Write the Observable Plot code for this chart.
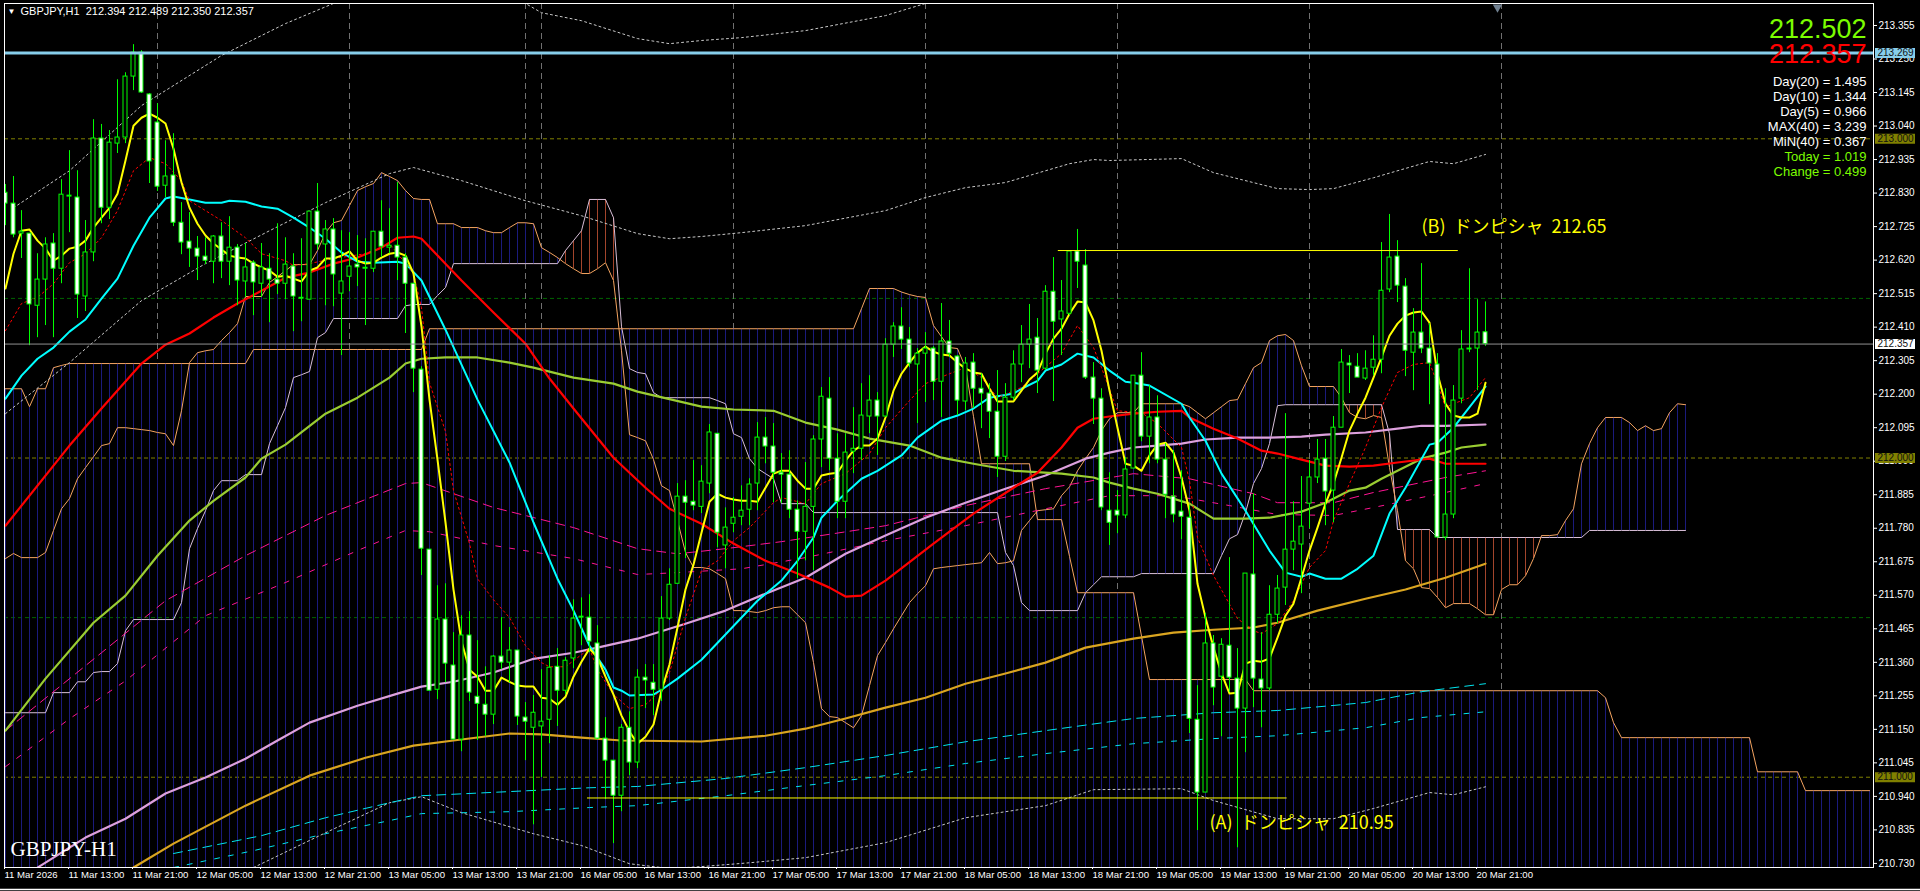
<!DOCTYPE html>
<html><head><meta charset="utf-8">
<style>html,body{margin:0;padding:0;background:#000;overflow:hidden}svg{display:block}</style>
<script src="https://cdn.jsdelivr.net/npm/d3@7"></script>
<script src="https://cdn.jsdelivr.net/npm/@observablehq/plot@0.6"></script>
</head><body>
<script>
const high=[212.857,212.882,212.775,212.703,212.640,212.690,212.703,212.872,212.963,212.900,
212.744,213.060,213.045,213.026,213.185,213.207,213.295,213.276,213.142,213.110,
212.994,213.016,212.800,212.769,212.694,212.690,212.697,212.737,212.756,212.669,
212.672,212.618,212.672,212.640,212.734,212.690,212.640,212.687,212.772,212.860,
212.744,212.750,212.712,212.706,212.697,212.687,212.709,212.806,212.781,212.863,
212.640,212.546,212.286,211.713,211.600,211.606,211.453,211.506,211.519,211.428,
211.346,211.381,211.500,211.469,211.397,211.234,211.256,211.337,211.381,211.403,
211.375,211.556,211.562,211.572,211.475,211.187,211.052,211.165,211.205,211.337,
211.353,211.353,211.566,211.653,211.920,211.929,211.992,211.976,212.105,212.076,
211.844,211.876,211.913,211.935,212.111,212.127,212.108,212.014,212.023,211.866,
211.986,212.070,212.221,212.252,212.076,212.076,212.158,212.233,212.258,212.205,
212.374,212.424,212.471,212.409,212.343,212.393,212.349,212.484,212.431,212.321,
212.315,212.327,212.264,212.233,212.274,212.233,212.336,212.415,212.481,212.437,
212.540,212.628,212.556,212.647,212.716,212.653,212.299,212.217,211.954,211.898,
212.001,212.258,212.330,212.227,212.195,212.045,212.023,211.960,211.851,211.287,
211.513,211.444,211.434,211.688,211.403,211.638,211.888,211.453,211.600,211.632,
212.139,211.863,211.942,211.992,212.058,212.058,212.130,212.340,212.321,212.327,
212.336,212.383,212.675,212.763,212.681,212.562,212.468,212.609,212.421,212.327,
212.217,212.227,212.399,212.593,212.496,212.489];
const low=[212.728,212.690,212.625,212.352,212.377,212.415,212.377,212.546,212.706,212.437,
212.459,212.615,212.734,212.747,212.954,212.985,213.151,213.142,212.860,212.835,
212.816,212.725,212.637,212.597,212.556,212.606,212.546,212.562,212.540,212.477,
212.503,212.446,212.503,212.424,212.512,212.496,212.396,212.427,212.496,212.650,
212.477,212.474,212.321,212.521,212.537,212.415,212.581,212.628,212.640,212.556,
212.390,212.205,211.632,211.271,211.243,211.296,211.118,211.080,211.237,211.115,
211.127,211.165,211.337,211.296,211.162,211.052,210.851,210.999,211.105,211.159,
211.259,211.340,211.412,211.390,211.118,210.930,210.792,210.892,211.005,211.027,
211.215,211.193,211.237,211.491,211.606,211.685,211.835,211.826,211.888,211.719,
211.653,211.766,211.788,211.788,211.835,211.982,211.860,211.857,211.810,211.622,
211.678,211.647,211.970,211.960,211.810,211.810,211.951,211.992,212.076,212.008,
212.127,212.315,212.340,212.283,212.108,212.174,212.180,212.127,212.315,212.133,
212.148,212.155,212.092,212.061,211.939,211.989,212.180,212.236,212.280,212.202,
212.274,212.177,212.321,212.446,212.531,212.246,212.105,211.835,211.726,211.763,
211.810,211.967,212.051,211.982,211.982,211.810,211.797,211.744,211.137,210.833,
210.952,211.224,211.127,211.265,210.779,211.077,211.218,211.155,211.271,211.481,
211.538,211.647,211.575,211.779,211.920,211.788,211.797,212.095,212.202,212.252,
212.243,212.258,212.264,212.518,212.487,212.255,212.211,212.327,212.167,211.751,
211.741,211.810,212.170,212.330,212.211,212.350];
const open=[212.831,212.797,212.703,212.703,212.477,212.559,212.672,212.593,212.819,212.816,
212.506,212.644,213.001,212.784,212.985,213.004,213.195,213.270,213.139,213.051,
212.853,212.885,212.737,212.678,212.656,212.631,212.615,212.694,212.615,212.659,
212.553,212.612,212.546,212.593,212.559,212.546,212.600,212.499,212.496,212.772,
212.669,212.716,212.515,212.568,212.606,212.593,212.593,212.709,212.659,212.665,
212.628,212.546,212.277,211.713,211.274,211.494,211.350,211.118,211.444,211.252,
211.227,211.196,211.378,211.359,211.397,211.187,211.155,211.159,211.180,211.346,
211.271,211.372,211.500,211.500,211.419,211.121,211.052,210.942,211.155,211.046,
211.312,211.296,211.274,211.497,211.606,211.879,211.863,211.847,211.920,212.076,
211.726,211.794,211.816,211.838,211.920,212.064,212.036,211.954,211.948,211.838,
211.769,211.847,212.058,212.186,211.998,211.863,212.020,212.029,212.130,212.180,
212.130,212.355,212.412,212.371,212.293,212.327,212.343,212.239,212.365,212.318,
212.177,212.299,212.217,212.202,212.145,212.004,212.189,212.293,212.355,212.377,
212.280,212.521,212.434,212.452,212.647,212.603,212.252,212.186,211.835,211.835,
211.820,211.967,212.258,212.067,212.127,211.995,211.879,211.832,211.813,211.180,
210.952,211.419,211.315,211.412,211.309,211.215,211.635,211.306,211.278,211.509,
211.594,211.713,211.729,211.857,211.939,211.998,211.898,212.095,212.296,212.286,
212.249,212.283,212.308,212.528,212.631,212.537,212.330,212.393,212.343,212.293,
211.751,211.823,212.186,212.340,212.343,212.394];
const close=[212.797,212.700,212.709,212.481,212.559,212.669,212.593,212.825,212.822,212.512,
212.644,213.001,212.784,212.988,213.004,213.195,213.270,213.145,212.929,212.850,
212.882,212.737,212.675,212.656,212.631,212.618,212.694,212.615,212.659,212.556,
212.597,212.550,212.597,212.559,212.546,212.606,212.506,212.502,212.772,212.669,
212.716,212.575,212.553,212.600,212.597,212.596,212.709,212.662,212.665,212.628,
212.546,212.280,211.716,211.271,211.494,211.356,211.118,211.444,211.265,211.230,
211.196,211.378,211.359,211.397,211.190,211.174,211.202,211.174,211.343,211.271,
211.365,211.497,211.503,211.425,211.121,211.052,210.942,211.155,211.046,211.312,
211.303,211.274,211.497,211.603,211.879,211.860,211.851,211.926,212.080,211.766,
211.782,211.813,211.835,211.917,212.064,212.036,211.954,211.948,211.838,211.769,
211.847,212.058,212.192,211.998,211.863,212.017,212.029,212.133,212.180,212.130,
212.355,212.412,212.371,212.296,212.327,212.343,212.239,212.365,212.327,212.180,
212.296,212.217,212.202,212.145,212.004,212.189,212.293,212.355,212.371,212.274,
212.521,212.427,212.459,212.647,212.615,212.252,212.186,211.845,211.797,211.820,
211.964,212.258,212.067,212.127,211.995,211.885,211.823,211.816,211.183,210.952,
211.419,211.281,211.415,211.312,211.215,211.638,211.309,211.278,211.509,211.591,
211.713,211.738,211.785,211.939,211.995,211.895,212.095,212.299,212.290,212.252,
212.280,212.308,212.524,212.628,212.540,212.336,212.393,212.343,212.296,211.751,
211.823,212.180,212.340,212.343,212.393,212.357];

const fastMA=[212.531,212.640,212.712,212.716,212.681,212.656,212.618,212.634,212.656,212.662,
212.681,212.722,212.753,212.784,212.828,212.932,213.041,213.066,213.079,213.066,
213.048,212.969,212.863,212.784,212.734,212.697,212.672,212.653,212.634,212.628,
212.625,212.609,212.597,212.587,212.568,212.571,212.562,212.553,212.587,212.597,
212.625,212.625,212.634,212.647,212.618,212.609,212.612,212.628,212.640,212.644,
212.634,212.578,212.412,212.183,211.995,211.798,211.588,211.425,211.337,211.315,
211.271,211.271,211.312,211.299,211.287,211.284,211.284,211.249,211.246,211.227,
211.252,211.315,211.362,211.403,211.375,211.315,211.259,211.193,211.143,211.105,
211.127,211.165,211.271,211.353,211.469,211.588,211.666,211.766,211.863,211.888,
211.876,211.870,211.866,211.866,211.863,211.907,211.951,211.960,211.960,211.929,
211.904,211.904,211.945,211.951,211.954,211.992,212.023,212.039,212.039,212.061,
212.127,212.211,212.264,212.299,212.330,212.349,212.333,212.324,212.321,212.299,
212.280,212.268,212.264,212.217,212.177,212.177,212.177,212.211,212.246,212.268,
212.327,212.374,212.405,212.452,212.490,212.487,212.431,212.336,212.211,212.095,
211.982,211.976,211.960,212.008,212.042,212.048,212.017,211.939,211.835,211.606,
211.500,211.406,211.325,211.262,211.265,211.356,211.365,211.362,211.372,211.437,
211.506,211.544,211.625,211.710,211.782,211.857,211.920,212.001,212.086,212.139,
212.189,212.252,212.315,212.383,212.421,212.446,212.456,212.459,212.424,212.264,
212.170,212.133,212.127,212.127,212.139,212.236];

const cyanBars=[0,2,4,6,8,10,12,14,16,18,20,21,23,25,27,28,30,32,34,36,38,40,42,44,46,49,50,52,55,59,63,66,69,71,73,75,76,77,78,81,82,84,87,94,97,99,101,102,104,107,109,112,114,117,119,121,123,126,127,129,130,132,134,136,138,140,141,143,147,148,150,152,155,158,160,162,163,165,167,169,171,173,175,178,179,181,185];
const cyanVals=[212.186,212.258,212.311,212.346,212.396,212.434,212.499,212.562,212.665,212.753,212.813,212.819,212.810,212.800,212.800,212.806,212.803,212.788,212.781,212.753,212.722,212.687,212.644,212.615,212.612,212.615,212.609,212.556,212.402,212.183,211.986,211.798,211.622,211.522,211.412,211.337,211.281,211.271,211.256,211.259,211.274,211.309,211.368,211.553,211.616,211.678,211.751,211.813,211.866,211.935,211.960,212.008,212.064,212.117,212.133,212.155,212.189,212.202,212.217,212.242,212.274,212.293,212.327,212.315,212.274,212.239,212.236,212.227,212.170,212.127,212.054,211.951,211.835,211.710,211.641,211.628,211.638,211.622,211.622,211.653,211.694,211.826,211.907,212.042,212.048,212.095,212.224];

const redBars=[0,8,12,17,20,23,26,29,32,35,38,41,44,47,49,51,52,57,61,65,68,71,76,80,83,87,91,95,99,103,105,107,110,116,121,126,129,132,134,136,138,141,144,147,148,151,154,157,159,162,165,168,171,174,178,180,185];
const redVals=[211.788,212.039,212.155,212.296,212.355,212.390,212.440,212.484,212.524,212.565,212.581,212.609,212.628,212.659,212.690,212.694,212.687,212.556,212.456,212.358,212.249,212.155,212.001,211.907,211.841,211.794,211.732,211.678,211.638,211.594,211.566,211.569,211.616,211.732,211.826,211.907,211.954,212.033,212.095,212.123,212.130,212.139,212.145,212.148,212.127,212.092,212.061,212.023,212.014,211.995,211.976,211.973,211.976,211.986,211.998,211.982,211.982];

const limeBars=[0,5,11,15,19,23,26,30,32,35,40,44,48,50,52,55,59,63,66,71,76,79,87,91,96,100,104,108,113,117,121,126,132,136,138,141,144,148,151,155,158,162,165,168,170,172,174,177,180,182,185];
const limeVals=[211.146,211.309,211.484,211.569,211.694,211.804,211.866,211.939,211.998,212.042,212.139,212.189,212.252,212.296,212.311,212.315,212.315,212.299,212.283,212.252,212.233,212.208,212.161,212.152,212.148,212.111,212.089,212.061,212.039,212.001,211.982,211.960,211.951,211.939,211.923,211.904,211.888,211.857,211.810,211.810,211.813,211.832,211.860,211.898,211.907,211.935,211.960,211.998,212.017,212.033,212.042];

const plumBars=[4,10,15,20,25,30,34,38,44,49,52,56,61,66,71,74,79,85,90,95,100,105,110,115,120,125,130,135,138,141,144,147,150,154,158,162,165,170,174,177,180,185];
const plumVals=[210.717,210.811,210.870,210.949,210.999,211.058,211.115,211.171,211.224,211.262,211.284,211.299,211.328,211.371,211.390,211.406,211.434,211.481,211.522,211.575,211.625,211.700,211.757,211.813,211.860,211.904,211.945,211.998,212.017,212.033,212.039,212.045,212.058,212.064,212.064,212.067,212.073,212.080,212.092,212.101,212.101,212.105];

const goldBars=[16,21,30,38,45,51,56,63,67,72,77,87,95,100,105,110,115,120,125,130,135,141,146,151,156,159,164,170,175,180,185];
const goldVals=[210.717,210.792,210.911,211.005,211.061,211.099,211.115,211.137,211.134,211.124,211.115,211.112,211.130,211.152,211.184,211.218,211.249,211.293,211.325,211.359,211.406,211.434,211.453,211.462,211.469,211.484,211.522,211.559,211.588,211.625,211.669];

const tealUpperBars=[21,32,40,48,52,63,73,79,90,100,110,120,130,141,151,159,170,177,185];
const tealUpperVals=[210.761,210.817,210.873,210.920,210.942,210.955,210.967,210.971,210.996,211.030,211.068,211.111,211.146,211.184,211.202,211.209,211.234,211.268,211.293];
const tealLowerBars=[21,31,40,48,52,63,73,79,90,100,110,120,130,141,151,159,170,177,185];
const tealLowerVals=[210.717,210.770,210.823,210.864,210.886,210.892,210.905,210.911,210.942,210.974,211.005,211.043,211.074,211.105,211.121,211.130,211.155,211.187,211.205];

const pinkUpperBars=[0,12,20,30,40,50,52,61,71,79,84,90,97,110,120,130,141,148,156,159,166,171,180,185];
const pinkUpperVals=[211.146,211.390,211.553,211.694,211.820,211.920,211.923,211.845,211.782,211.716,211.700,211.716,211.738,211.788,211.851,211.904,211.951,211.935,211.888,211.860,211.860,211.892,211.939,211.960];
const pinkLowerBars=[0,8,15,25,35,44,50,53,61,71,79,84,92,100,110,120,130,138,146,153,159,166,171,180,185];
const pinkLowerVals=[211.033,211.183,211.302,211.506,211.610,211.710,211.773,211.769,211.726,211.685,211.635,211.641,211.653,211.688,211.741,211.788,211.841,211.882,211.882,211.851,211.823,211.820,211.845,211.892,211.920];

const bandUpperBars=[1,8,17,27,35,41,51,65,67,72,79,83,87,92,100,110,115,120];
const bandUpperVals=[212.784,212.900,213.104,213.261,213.361,213.424,213.621,213.424,213.395,213.370,213.314,213.298,213.308,213.317,213.339,213.386,213.424,213.455];
const bandMidBars=[0,8,17,25,33,40,48,51,57,65,72,79,83,87,92,100,110,115,120,125,133,136,138,147,151,159,163,166,171,178,181,185];
const bandMidVals=[212.139,212.299,212.493,212.609,212.712,212.800,212.891,212.910,212.869,212.806,212.759,212.703,212.687,212.694,212.706,212.728,212.775,212.816,212.847,212.863,212.922,212.935,212.932,212.938,212.894,212.844,212.841,212.844,212.878,212.929,212.922,212.951];
const bandLowerBars=[31,40,48,52,57,66,72,78,83,87,93,100,110,120,130,136,147,151,159,166,171,178,181,185];
const bandLowerVals=[210.717,210.826,210.920,210.939,210.889,210.823,210.786,210.729,210.714,210.720,210.732,210.748,210.795,210.873,210.911,210.961,210.964,210.927,210.870,210.870,210.902,210.952,210.945,210.970];

const dotRedBars=[0,2,4,6,8,10,12,14,16,18,20,22,23,25,27,30,32,35,36,38,41,45,48,51,52,53,55,56,58,59,61,63,65,67,68,70,73,74,76,78,80,82,83,85,87,89,91,93,96,97,100,102,105,108,110,113,115,118,120,122,124,127,129,132,134,136,137,139,142,144,147,148,149,151,154,156,157,159,161,163,165,166,168,170,172,174,176,178,179,180,181,183,185];
const dotRedVals=[212.399,212.484,212.503,212.546,212.612,212.640,212.690,212.775,212.900,212.941,212.922,212.869,212.806,212.775,212.744,212.690,212.640,212.618,212.603,212.609,212.625,212.640,212.672,212.578,212.471,212.236,212.083,211.898,211.732,211.622,211.556,211.500,211.412,211.359,211.346,211.346,211.403,211.337,211.259,211.215,211.227,211.274,211.328,211.500,211.647,211.678,211.741,211.782,211.860,211.876,211.857,211.920,211.951,212.014,212.095,212.180,212.233,212.264,212.283,212.252,212.189,212.221,212.264,212.327,212.415,212.346,212.283,212.148,212.142,212.108,212.033,211.929,211.751,211.632,211.497,211.459,211.450,211.481,211.553,211.657,211.710,211.804,211.920,212.033,212.158,212.268,212.293,212.299,212.233,212.158,212.170,212.189,212.252];

const spanA=[211.685,211.701,211.688,211.688,211.688,211.704,211.773,211.841,211.873,211.935,
211.970,212.004,212.039,212.045,212.095,212.095,212.092,212.089,212.086,212.080,
212.076,212.039,212.148,212.299,212.330,212.336,212.340,212.368,212.393,212.421,
212.506,212.506,212.506,212.550,212.568,212.587,212.606,212.606,212.606,212.650,
212.706,212.737,212.744,212.791,212.838,212.850,212.860,212.894,212.882,212.869,
212.838,212.813,212.810,212.810,212.734,212.734,212.734,212.722,212.722,212.722,
212.712,212.706,212.706,212.722,212.737,212.737,212.734,212.659,212.644,212.628,
212.609,212.593,212.578,212.578,212.593,212.612,212.556,212.336,212.073,212.064,
212.054,211.995,211.913,211.898,211.804,211.704,211.657,211.657,211.653,211.638,
211.622,211.522,211.522,211.519,211.516,211.522,211.531,211.534,211.534,211.509,
211.484,211.359,211.215,211.190,211.187,211.171,211.155,211.193,211.287,211.381,
211.422,211.465,211.506,211.547,211.575,211.600,211.653,211.657,211.660,211.663,
211.666,211.669,211.672,211.704,211.669,211.672,211.678,211.773,211.804,211.835,
211.838,211.841,211.882,211.910,211.960,211.998,212.033,212.086,212.123,212.142,
212.142,212.142,212.170,212.170,212.170,212.170,212.170,212.170,212.161,212.142,
212.123,212.142,212.161,212.180,212.183,212.233,212.283,212.299,212.368,212.383,
212.387,212.368,212.289,212.224,212.224,212.224,212.224,212.189,212.142,212.127,
212.123,212.133,212.127,211.970,211.835,211.678,211.653,211.594,211.591,211.563,
211.531,211.544,211.544,211.544,211.528,211.509,211.509,211.588,211.603,211.603,
211.631,211.685,211.757,211.757,211.760,211.804,211.841,211.982,212.045,212.095,
212.127,212.127,212.127,212.111,212.086,212.101,212.086,212.092,212.142,212.170,
212.167];
const spanB=[211.202,211.202,211.202,211.202,211.202,211.202,211.265,211.265,211.265,211.299,
211.299,211.328,211.331,211.331,211.356,211.459,211.494,211.494,211.494,211.494,
211.494,211.494,211.547,211.716,211.779,211.835,211.898,211.929,211.929,211.929,
211.948,211.948,211.948,212.045,212.101,212.158,212.252,212.261,212.271,212.377,
212.393,212.437,212.437,212.437,212.437,212.437,212.437,212.437,212.437,212.437,
212.477,212.481,212.481,212.481,212.509,212.534,212.609,212.609,212.609,212.609,
212.609,212.609,212.609,212.609,212.609,212.609,212.609,212.609,212.609,212.609,
212.650,212.681,212.712,212.810,212.810,212.810,212.753,212.412,212.280,212.268,
212.264,212.205,212.189,212.189,212.189,212.189,212.189,212.189,212.189,212.180,
212.170,212.076,212.064,211.998,211.967,211.951,211.935,211.857,211.857,211.857,
211.857,211.829,211.829,211.829,211.829,211.829,211.829,211.829,211.829,211.829,
211.829,211.829,211.829,211.829,211.829,211.829,211.829,211.829,211.829,211.829,
211.829,211.829,211.829,211.829,211.829,211.704,211.663,211.547,211.522,211.522,
211.522,211.522,211.522,211.522,211.522,211.578,211.603,211.628,211.628,211.628,
211.628,211.628,211.638,211.638,211.638,211.638,211.638,211.638,211.638,211.638,
211.638,211.638,211.694,211.747,211.760,211.829,211.920,211.967,212.045,212.164,
212.167,212.167,212.167,212.167,212.167,212.167,212.167,212.167,212.167,212.167,
212.167,212.167,212.167,212.076,211.776,211.776,211.776,211.776,211.776,211.751,
211.751,211.751,211.751,211.751,211.751,211.751,211.751,211.751,211.751,211.751,
211.751,211.751,211.751,211.751,211.751,211.751,211.751,211.751,211.773,211.773,
211.773,211.773,211.773,211.773,211.773,211.773,211.773,211.773,211.773,211.773,
211.773];
const longCloudTop=[212.217,212.217,212.217,212.161,212.217,212.217,212.283,212.290,212.296,212.296,
212.296,212.296,212.296,212.296,212.296,212.296,212.296,212.296,212.296,212.296,
212.296,212.296,212.296,212.296,212.296,212.296,212.296,212.296,212.296,212.296,
212.296,212.340,212.340,212.340,212.340,212.340,212.340,212.340,212.340,212.340,
212.340,212.340,212.340,212.340,212.340,212.340,212.340,212.340,212.340,212.340,
212.340,212.340,212.340,212.405,212.405,212.405,212.405,212.405,212.405,212.405,
212.405,212.405,212.405,212.405,212.405,212.405,212.405,212.405,212.405,212.405,
212.405,212.405,212.405,212.405,212.405,212.405,212.405,212.405,212.405,212.405,
212.405,212.405,212.405,212.405,212.405,212.405,212.405,212.405,212.405,212.405,
212.405,212.405,212.405,212.405,212.405,212.405,212.405,212.405,212.405,212.405,
212.405,212.405,212.405,212.405,212.405,212.405,212.405,212.468,212.531,212.531,
212.531,212.531,212.520,212.512,212.506,212.503,212.415,212.380,212.346,212.343,
212.283,212.130,211.982,211.982,211.982,211.982,211.982,211.982,211.982,211.807,
211.807,211.807,211.807,211.692,211.578,211.578,211.578,211.578,211.578,211.578,
211.578,211.578,211.442,211.306,211.306,211.306,211.306,211.306,211.306,211.306,
211.306,211.306,211.306,211.306,211.306,211.306,211.271,211.271,211.271,211.271,
211.271,211.271,211.271,211.271,211.271,211.271,211.271,211.271,211.271,211.271,
211.271,211.271,211.271,211.271,211.271,211.271,211.271,211.271,211.271,211.271,
211.271,211.271,211.271,211.271,211.271,211.271,211.271,211.271,211.271,211.271,
211.271,211.271,211.271,211.271,211.271,211.271,211.271,211.271,211.271,211.271,
211.249,211.171,211.124,211.124,211.124,211.124,211.124,211.124,211.124,211.124,
211.124,211.124,211.124,211.124,211.124,211.124,211.124,211.124,211.124,211.017,
211.017,211.017,211.017,211.017,211.017,210.958,210.958,210.958,210.958,210.958,
210.958,210.958,210.958,210.958];

const priceTicks=[213.355,213.250,213.145,213.040,212.935,212.830,212.725,212.620,212.515,212.410,212.305,212.200,212.095,211.990,211.885,211.780,211.675,211.570,211.465,211.360,211.255,211.150,211.045,210.940,210.835,210.730];
const timeBars=[0,8,16,24,32,40,48,56,64,72,80,88,96,104,112,120,128,136,144,152,160,168,176,184];
const timeLabels=["11 Mar 2026","11 Mar 13:00","11 Mar 21:00","12 Mar 05:00","12 Mar 13:00","12 Mar 21:00","13 Mar 05:00","13 Mar 13:00","13 Mar 21:00","16 Mar 05:00","16 Mar 13:00","16 Mar 21:00","17 Mar 05:00","17 Mar 13:00","17 Mar 21:00","18 Mar 05:00","18 Mar 13:00","18 Mar 21:00","19 Mar 05:00","19 Mar 13:00","19 Mar 21:00","20 Mar 05:00","20 Mar 13:00","20 Mar 21:00"];
const dayBars=[19,43,65,67,91,115,139,163,187];
const roundLevels=[213,212,211];
const halfLevels=[212.5,211.5];
const resistance=213.269, bidPrice=212.357;
const statNames=["Day(20) = 1.495","Day(10) = 1.344","Day(5) = 0.966","MAX(40) = 3.239","MiN(40) = 0.367","Today = 1.019","Change = 0.499"];

const C={navy:"#1b1b7c",brown:"#a3452c",sandy:"#f4a460",thistle:"#d8bfd8",wick:"#00ff00",lawn:"#7cfc00",yellow:"#ffff00"};
const font='"Liberation Sans",Arial,sans-serif';
const bars=high.map((h,i)=>({i,h,l:low[i],o:open[i],c:close[i]}));
const pts=(xs,ys)=>xs.map((x,k)=>({x,y:ys[k]}));
const seq=ys=>ys.map((y,x)=>({x,y}));
const ln=(data,stroke,strokeWidth,extra={})=>Plot.line(data,{x:"x",y:"y",stroke,strokeWidth,clip:true,strokeLinejoin:"round",...extra});
const bottomPrice=210.7172;
const kumo=spanA.map((a,i)=>({i,a,b:spanB[i]}));

const plot=Plot.plot({
  width:1920,height:891,
  marginLeft:4,marginRight:47,marginTop:3,marginBottom:24,
  style:{background:"#000",color:"#fff",fontFamily:font,fontSize:"10px"},
  x:{type:"linear",domain:[-0.125,233.5]},
  y:{type:"linear",domain:[bottomPrice,213.4239]},
  marks:[
    Plot.ruleY(roundLevels,{stroke:"#808000",strokeDasharray:"4,3"}),
    Plot.ruleY(halfLevels,{stroke:"#006400",strokeDasharray:"4,3"}),
    Plot.ruleX(dayBars,{stroke:"#707070",strokeDasharray:"6,4"}),
    Plot.ruleX(kumo,{x:"i",y1:"a",y2:"b",stroke:d=>d.a>=d.b?C.navy:C.brown,clip:true}),
    Plot.ruleX(longCloudTop.map((t,i)=>({i,t})),{x:"i",y1:"t",y2:bottomPrice,stroke:C.navy,clip:true}),
    ln(seq(spanB),C.thistle,1),
    ln(seq(spanA),C.sandy,1),
    ln(seq(longCloudTop),C.sandy,1),
    ln(pts(bandUpperBars,bandUpperVals),"#c8c8c8",1,{strokeDasharray:"2,3"}),
    ln(pts(bandMidBars,bandMidVals),"#c8c8c8",1,{strokeDasharray:"2,3"}),
    ln(pts(bandLowerBars,bandLowerVals),"#c8c8c8",1,{strokeDasharray:"2,3"}),
    ln(pts(pinkUpperBars,pinkUpperVals),"#ff1493",1,{strokeDasharray:"9,6"}),
    ln(pts(pinkLowerBars,pinkLowerVals),"#ff1493",1,{strokeDasharray:"5,9"}),
    ln(pts(tealUpperBars,tealUpperVals),"#00e5ee",1,{strokeDasharray:"9,6"}),
    ln(pts(tealLowerBars,tealLowerVals),"#00e5ee",1,{strokeDasharray:"5,9"}),
    ln(pts(goldBars,goldVals),"#daa520",2.2),
    ln(pts(plumBars,plumVals),"#dda0dd",2.2),
    ln(pts(limeBars,limeVals),"#9acd32",2.2),
    ln(pts(redBars,redVals),"#ff0000",2.2),
    ln(pts(cyanBars,cyanVals),"#00ffff",2),
    ln(pts(dotRedBars,dotRedVals),"#ff0000",1,{strokeDasharray:"2,3"}),
    ln(seq(fastMA),C.yellow,2),
    Plot.ruleX(bars,{x:"i",y1:"l",y2:"h",stroke:C.wick,strokeWidth:1,clip:true}),
    Plot.rect(bars,{x1:d=>d.i-0.25,x2:d=>d.i+0.25,y1:"o",y2:"c",fill:d=>d.c<d.o?"#fff":"#000",stroke:C.wick,strokeWidth:1,clip:true}),
    Plot.ruleY([bidPrice],{stroke:"#909090"}),
    Plot.ruleY([212.65],{x1:131.6,x2:181.6,stroke:C.yellow}),
    Plot.ruleY([210.935],{x1:72.75,x2:160.2,stroke:C.yellow}),
    Plot.ruleY([resistance],{stroke:"#87ceeb",strokeWidth:3}),
    Plot.frame({stroke:"#fff"}),
    Plot.axisY(priceTicks,{anchor:"right",tickFormat:d=>d.toFixed(3),tickSize:3,tickPadding:2,stroke:"#fff",fill:"#fff",fontSize:10,label:null}),
    Plot.axisX(timeBars,{anchor:"bottom",tickFormat:(d,k)=>timeLabels[timeBars.indexOf(d)],tickSize:2,tickPadding:2,textAnchor:"start",dx:-1,stroke:"#fff",fill:"#fff",fontSize:9.6,label:null}),
    Plot.ruleY([resistance],{x1:233.75,x2:238.75,stroke:"#87ceeb",strokeWidth:10}),
    Plot.ruleY(roundLevels,{x1:233.75,x2:238.75,stroke:"#808000",strokeWidth:10}),
    Plot.ruleY([bidPrice],{x1:233.75,x2:238.75,stroke:"#fff",strokeWidth:10}),
    Plot.text([resistance,...roundLevels,bidPrice],{x:234,y:d=>d,text:d=>d.toFixed(3),textAnchor:"start",fill:"#111",fontSize:10}),
    Plot.ruleY([210.648],{x1:-1,x2:239.4,stroke:"#fff",strokeWidth:1.5}),
    Plot.dot([{x:186.5,y:213.412}],{x:"x",y:"y",symbol:"triangle",r:3.5,rotate:180,fill:"#708090"}),
    Plot.text(["GBPJPY,H1  212.394 212.489 212.350 212.357"],{frameAnchor:"top-left",dx:16,dy:8,lineAnchor:"middle",fill:"#fff",fontSize:11,fontFamily:font,text:d=>d}),
    Plot.text(["\u25BC"],{frameAnchor:"top-left",dx:3,dy:8,lineAnchor:"middle",fill:"#fff",fontSize:8,text:d=>d}),
    Plot.text(["212.502"],{frameAnchor:"top-right",dx:-7,dy:26,lineAnchor:"middle",fill:C.lawn,fontSize:27,fontFamily:font,text:d=>d}),
    Plot.text(["212.357"],{frameAnchor:"top-right",dx:-7,dy:51,lineAnchor:"middle",fill:"#ff0000",fontSize:27,fontFamily:font,text:d=>d}),
    ...statNames.map((s,k)=>Plot.text([s],{frameAnchor:"top-right",dx:-7,dy:78+15*k,lineAnchor:"middle",fill:k>=5?C.lawn:"#fff",fontSize:13,fontFamily:font,text:d=>d})),
    Plot.text(["GBPJPY-H1"],{frameAnchor:"top-left",dx:6,dy:846,lineAnchor:"middle",fill:"#fff",fontSize:21,fontFamily:'"Liberation Serif",serif',text:d=>d}),
    Plot.text(["(B)  ドンピシャ  212.65"],{frameAnchor:"top-left",dx:1417,dy:224,lineAnchor:"middle",fill:C.yellow,fontSize:18,fontFamily:'"Noto Sans CJK JP",sans-serif',text:d=>d}),
    Plot.text(["(A)  ドンピシャ  210.95"],{frameAnchor:"top-left",dx:1205,dy:820,lineAnchor:"middle",fill:C.yellow,fontSize:18,fontFamily:'"Noto Sans CJK JP",sans-serif',text:d=>d})
  ]
});
document.body.appendChild(plot);
</script>
</body></html>
